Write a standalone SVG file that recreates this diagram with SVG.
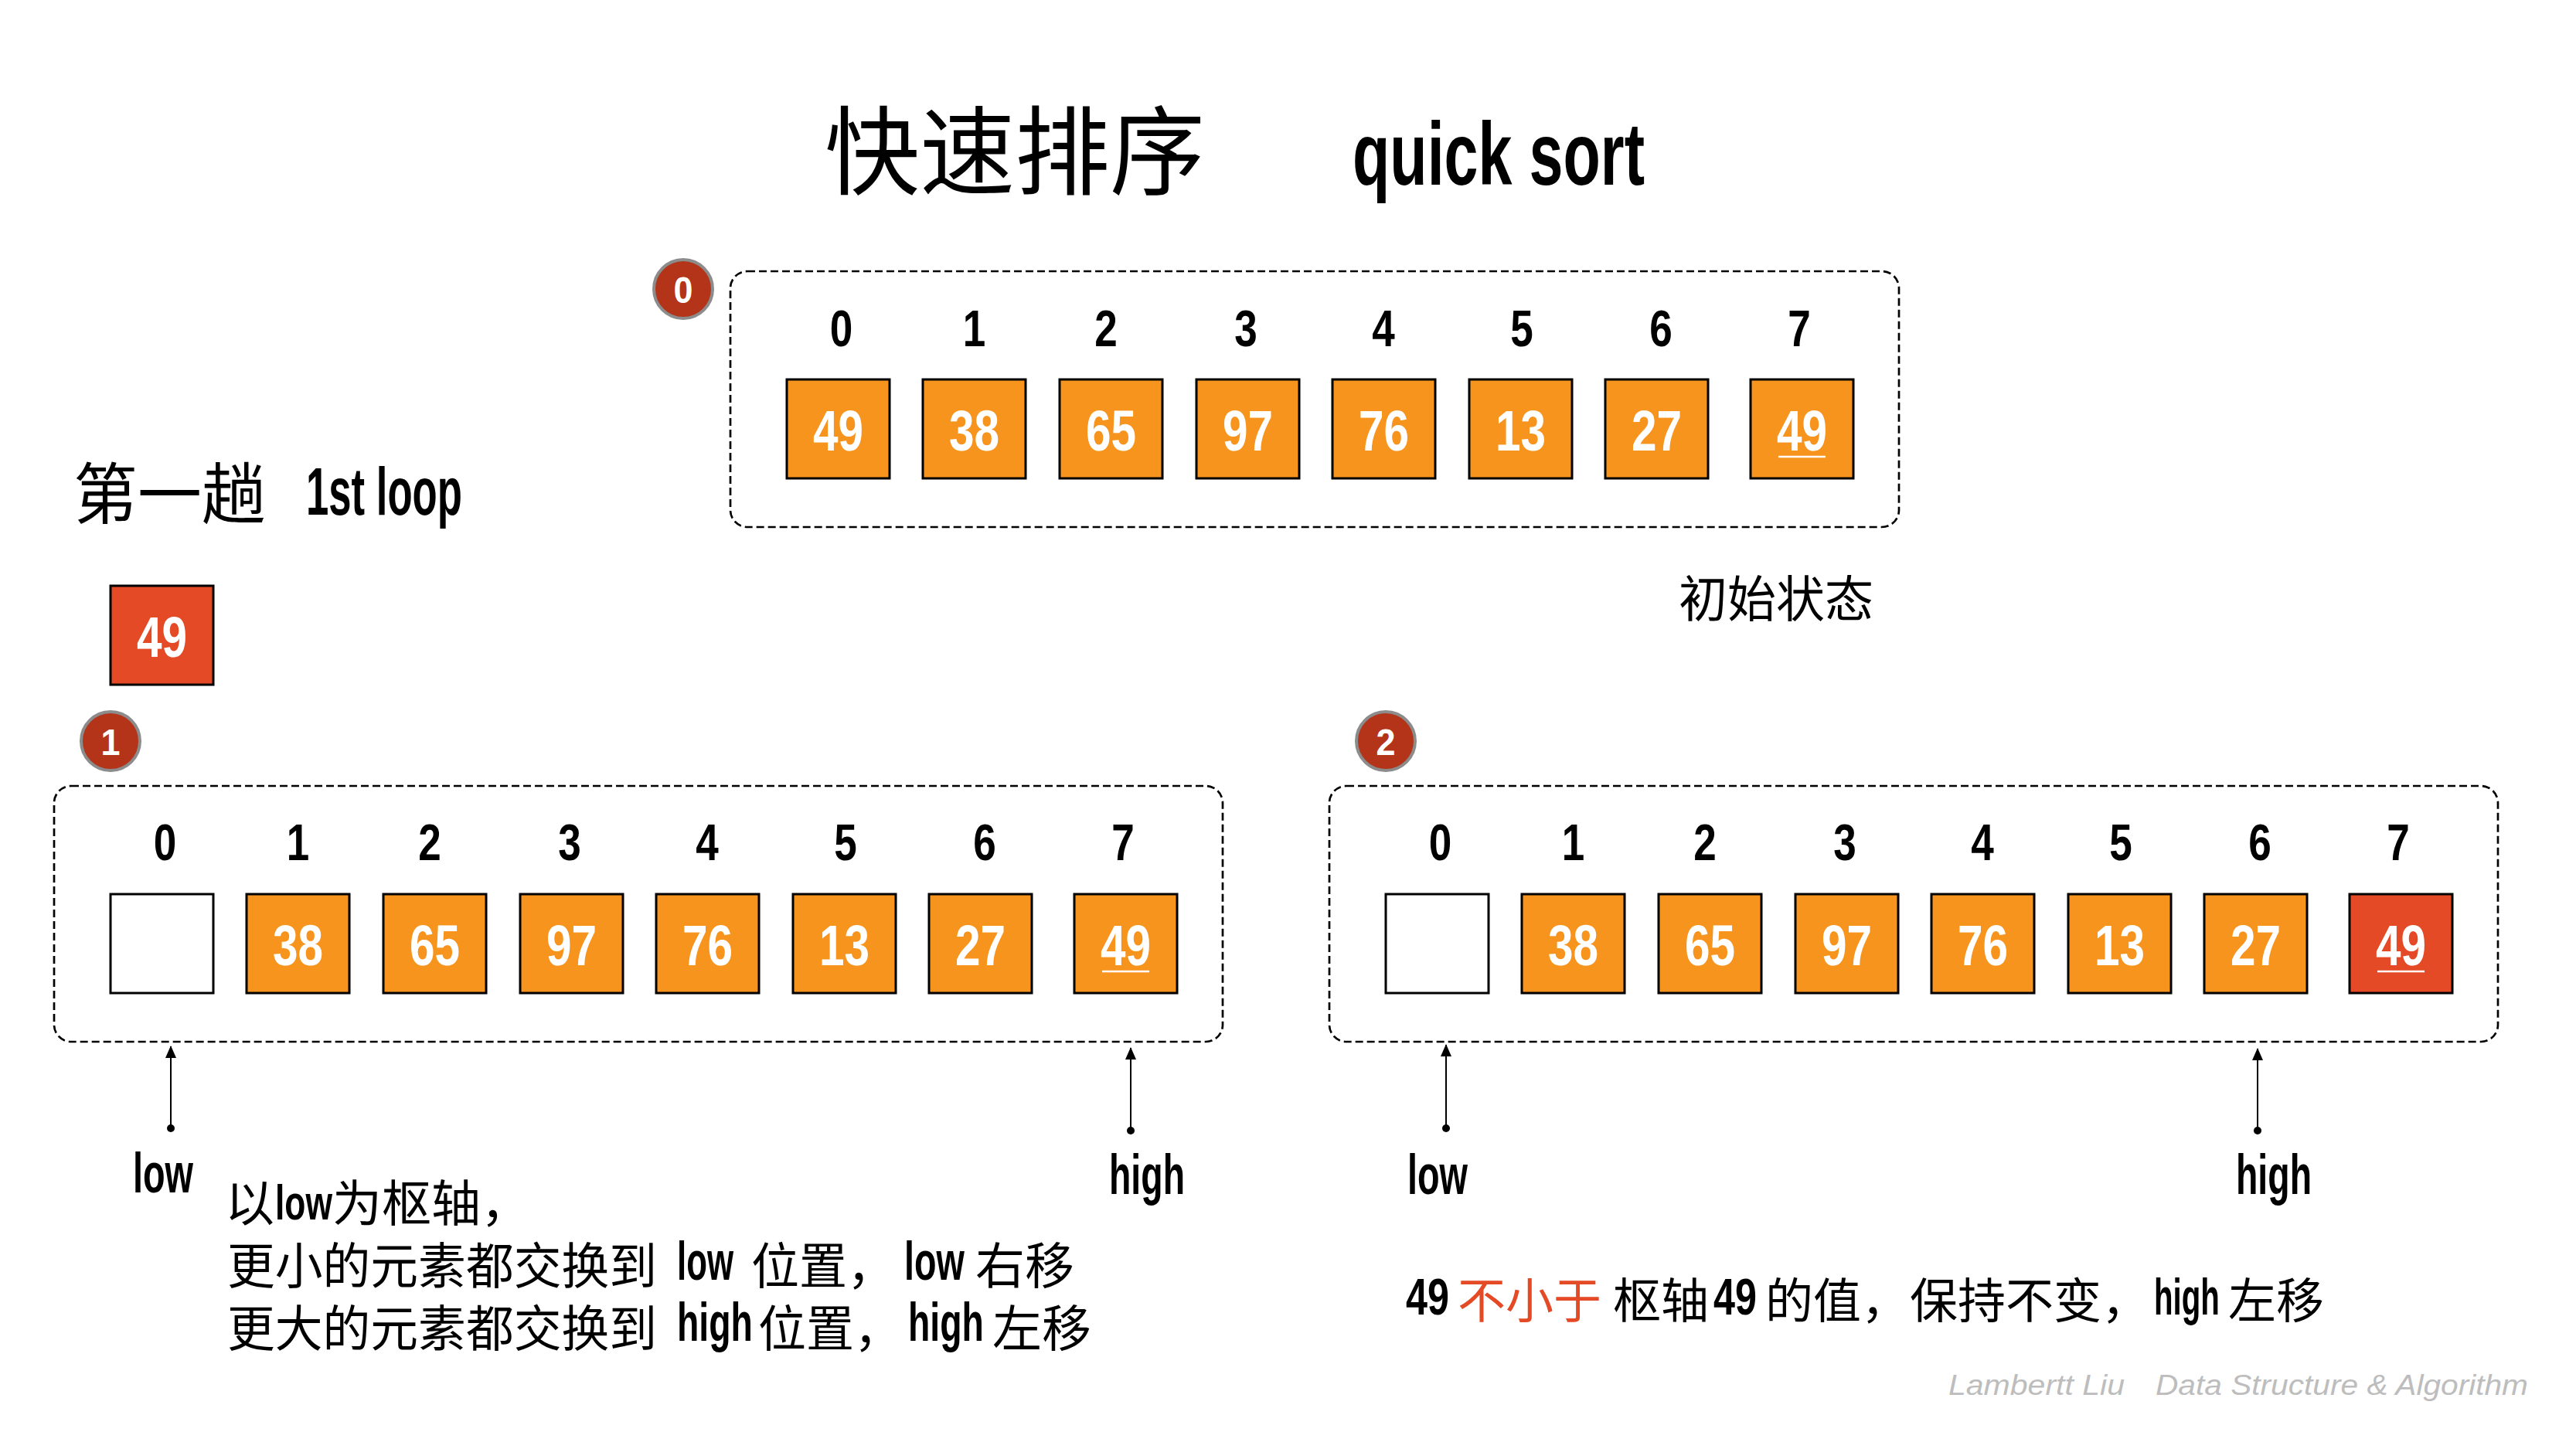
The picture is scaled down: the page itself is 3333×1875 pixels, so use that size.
<svg xmlns="http://www.w3.org/2000/svg" width="3333" height="1875" viewBox="0 0 3333 1875">
<style>
.cjk{font-family:"Noto Sans CJK SC","Noto Sans CJK TC",sans-serif;fill:#000}
.cond{font-family:"Liberation Sans Narrow","Liberation Sans",Arial,sans-serif;font-weight:bold;fill:#000}
.lat{font-family:"Liberation Sans",Arial,sans-serif;font-weight:bold;fill:#000}
.idx{font-size:67px}
.num{font-size:74px;fill:#fff}
.lbl{font-size:72px}
.frame{fill:none;stroke:#000;stroke-width:2.7;stroke-dasharray:10 5}
.cell{fill:#F7941D;stroke:#000;stroke-width:3}
.empty{fill:#fff;stroke:#000;stroke-width:3}
.pivot{fill:#E44A25;stroke:#000;stroke-width:3}
.badge{fill:#B33418;stroke:#8C8C8C;stroke-width:4}
.badgetxt{font-size:49px;fill:#fff}
.uline{stroke:#fff;stroke-width:2.5}
.ptr{stroke:#000;stroke-width:2;fill:none}
.red{fill:#E44A25}
.wm{font-family:"Liberation Sans",Arial,sans-serif;font-style:italic;font-size:37px;fill:#BDBDBD}
</style>
<defs>
<marker id="ah" markerUnits="userSpaceOnUse" viewBox="0 0 16 14" markerWidth="16" markerHeight="14" refX="15" refY="7" orient="auto">
<path d="M0,0 L16,7 L0,14 Z" fill="#000"/>
</marker>
<marker id="dot" markerUnits="userSpaceOnUse" viewBox="0 0 12 12" markerWidth="12" markerHeight="12" refX="6" refY="6" orient="auto">
<circle cx="6" cy="6" r="5" fill="#000"/>
</marker>
</defs>
<rect width="3333" height="1875" fill="#fff"/>

<g id="title">
<text class="cjk" x="1067" y="242" font-size="125" textLength="492" lengthAdjust="spacingAndGlyphs">快速排序</text>
<text class="cond" x="1750" y="239" font-size="115" textLength="378" lengthAdjust="spacingAndGlyphs">quick sort</text>
</g>

<g id="loop-title">
<text class="cjk" x="95" y="671" font-size="86" textLength="249" lengthAdjust="spacingAndGlyphs">第一趟</text>
<text class="cond" x="396" y="666" font-size="88" textLength="202" lengthAdjust="spacingAndGlyphs">1st loop</text>
</g>

<g id="pivot">
<rect class="pivot" x="143" y="758" width="133" height="128"/>
<text class="cond num" x="177" y="850" textLength="65" lengthAdjust="spacingAndGlyphs">49</text>
</g>

<!-- State 0 -->
<g id="state0">
<rect class="frame" x="945" y="351" width="1512" height="331" rx="22"/>
<circle class="badge" cx="884" cy="374" r="38"/>
<text class="cond badgetxt" x="871.5" y="392" textLength="25" lengthAdjust="spacingAndGlyphs">0</text>
<g class="cond idx">
<text x="1073.75" y="448" textLength="29.5" lengthAdjust="spacingAndGlyphs">0</text>
<text x="1245.75" y="448" textLength="29.5" lengthAdjust="spacingAndGlyphs">1</text>
<text x="1416.25" y="448" textLength="29.5" lengthAdjust="spacingAndGlyphs">2</text>
<text x="1597.25" y="448" textLength="29.5" lengthAdjust="spacingAndGlyphs">3</text>
<text x="1775.25" y="448" textLength="29.5" lengthAdjust="spacingAndGlyphs">4</text>
<text x="1954.25" y="448" textLength="29.5" lengthAdjust="spacingAndGlyphs">5</text>
<text x="2134.25" y="448" textLength="29.5" lengthAdjust="spacingAndGlyphs">6</text>
<text x="2313.25" y="448" textLength="29.5" lengthAdjust="spacingAndGlyphs">7</text>
</g>
<rect class="cell" x="1018" y="491" width="133" height="128"/>
<rect class="cell" x="1194" y="491" width="133" height="128"/>
<rect class="cell" x="1371" y="491" width="133" height="128"/>
<rect class="cell" x="1548" y="491" width="133" height="128"/>
<rect class="cell" x="1724" y="491" width="133" height="128"/>
<rect class="cell" x="1901" y="491" width="133" height="128"/>
<rect class="cell" x="2077" y="491" width="133" height="128"/>
<rect class="cell" x="2265" y="491" width="133" height="128"/>
<g class="cond num">
<text x="1052" y="583" textLength="65" lengthAdjust="spacingAndGlyphs">49</text>
<text x="1228" y="583" textLength="65" lengthAdjust="spacingAndGlyphs">38</text>
<text x="1405" y="583" textLength="65" lengthAdjust="spacingAndGlyphs">65</text>
<text x="1582" y="583" textLength="65" lengthAdjust="spacingAndGlyphs">97</text>
<text x="1758" y="583" textLength="65" lengthAdjust="spacingAndGlyphs">76</text>
<text x="1935" y="583" textLength="65" lengthAdjust="spacingAndGlyphs">13</text>
<text x="2111" y="583" textLength="65" lengthAdjust="spacingAndGlyphs">27</text>
<text x="2299" y="583" textLength="65" lengthAdjust="spacingAndGlyphs">49</text>
</g>
<line class="uline" x1="2301" y1="591" x2="2362" y2="591"/>
<text class="cjk" x="2172" y="798" font-size="64" textLength="252" lengthAdjust="spacingAndGlyphs">初始状态</text>
</g>

<!-- State 1 -->
<g id="state1">
<rect class="frame" x="70" y="1017" width="1512" height="331" rx="22"/>
<circle class="badge" cx="143" cy="959" r="38"/>
<text class="cond badgetxt" x="130.5" y="977" textLength="25" lengthAdjust="spacingAndGlyphs">1</text>
<g class="cond idx">
<text x="198.75" y="1113" textLength="29.5" lengthAdjust="spacingAndGlyphs">0</text>
<text x="370.75" y="1113" textLength="29.5" lengthAdjust="spacingAndGlyphs">1</text>
<text x="541.25" y="1113" textLength="29.5" lengthAdjust="spacingAndGlyphs">2</text>
<text x="722.25" y="1113" textLength="29.5" lengthAdjust="spacingAndGlyphs">3</text>
<text x="900.25" y="1113" textLength="29.5" lengthAdjust="spacingAndGlyphs">4</text>
<text x="1079.25" y="1113" textLength="29.5" lengthAdjust="spacingAndGlyphs">5</text>
<text x="1259.25" y="1113" textLength="29.5" lengthAdjust="spacingAndGlyphs">6</text>
<text x="1438.25" y="1113" textLength="29.5" lengthAdjust="spacingAndGlyphs">7</text>
</g>
<rect class="empty" x="143" y="1157" width="133" height="128"/>
<rect class="cell" x="319" y="1157" width="133" height="128"/>
<rect class="cell" x="496" y="1157" width="133" height="128"/>
<rect class="cell" x="673" y="1157" width="133" height="128"/>
<rect class="cell" x="849" y="1157" width="133" height="128"/>
<rect class="cell" x="1026" y="1157" width="133" height="128"/>
<rect class="cell" x="1202" y="1157" width="133" height="128"/>
<rect class="cell" x="1390" y="1157" width="133" height="128"/>
<g class="cond num">
<text x="353" y="1249" textLength="65" lengthAdjust="spacingAndGlyphs">38</text>
<text x="530" y="1249" textLength="65" lengthAdjust="spacingAndGlyphs">65</text>
<text x="707" y="1249" textLength="65" lengthAdjust="spacingAndGlyphs">97</text>
<text x="883" y="1249" textLength="65" lengthAdjust="spacingAndGlyphs">76</text>
<text x="1060" y="1249" textLength="65" lengthAdjust="spacingAndGlyphs">13</text>
<text x="1236" y="1249" textLength="65" lengthAdjust="spacingAndGlyphs">27</text>
<text x="1424" y="1249" textLength="65" lengthAdjust="spacingAndGlyphs">49</text>
</g>
<line class="uline" x1="1426" y1="1257" x2="1487" y2="1257"/>
<text class="cond lbl" x="172" y="1543" textLength="78" lengthAdjust="spacingAndGlyphs">low</text>
<text class="cond lbl" x="1435" y="1545" textLength="98" lengthAdjust="spacingAndGlyphs">high</text>
</g>

<g id="note1">
<text class="cjk" x="291" y="1580" font-size="64">以</text>
<text class="lat" font-size="63" transform="translate(356,1578) scale(0.704,1)">low</text>
<text class="cjk" x="430" y="1580" font-size="64">为枢轴，</text>
<text class="cjk" x="294" y="1661" font-size="64" textLength="556" lengthAdjust="spacingAndGlyphs">更小的元素都交换到</text>
<text class="lat" font-size="70" transform="translate(876,1656) scale(0.626,1)">low</text>
<text class="cjk" x="972" y="1661" font-size="64" textLength="186" lengthAdjust="spacingAndGlyphs">位置，</text>
<text class="lat" font-size="70" transform="translate(1170,1656) scale(0.668,1)">low</text>
<text class="cjk" x="1262" y="1661" font-size="64" textLength="128" lengthAdjust="spacingAndGlyphs">右移</text>
<text class="cjk" x="294" y="1742" font-size="64" textLength="556" lengthAdjust="spacingAndGlyphs">更大的元素都交换到</text>
<text class="lat" font-size="70" transform="translate(876,1735) scale(0.663,1)">high</text>
<text class="cjk" x="981" y="1742" font-size="64" textLength="186" lengthAdjust="spacingAndGlyphs">位置，</text>
<text class="lat" font-size="70" transform="translate(1175,1735) scale(0.663,1)">high</text>
<text class="cjk" x="1284" y="1742" font-size="64" textLength="128" lengthAdjust="spacingAndGlyphs">左移</text>
</g>

<!-- State 2 -->
<g id="state2">
<rect class="frame" x="1720" y="1017" width="1512" height="331" rx="22"/>
<circle class="badge" cx="1793" cy="959" r="38"/>
<text class="cond badgetxt" x="1780.5" y="977" textLength="25" lengthAdjust="spacingAndGlyphs">2</text>
<g class="cond idx">
<text x="1848.75" y="1113" textLength="29.5" lengthAdjust="spacingAndGlyphs">0</text>
<text x="2020.75" y="1113" textLength="29.5" lengthAdjust="spacingAndGlyphs">1</text>
<text x="2191.25" y="1113" textLength="29.5" lengthAdjust="spacingAndGlyphs">2</text>
<text x="2372.25" y="1113" textLength="29.5" lengthAdjust="spacingAndGlyphs">3</text>
<text x="2550.25" y="1113" textLength="29.5" lengthAdjust="spacingAndGlyphs">4</text>
<text x="2729.25" y="1113" textLength="29.5" lengthAdjust="spacingAndGlyphs">5</text>
<text x="2909.25" y="1113" textLength="29.5" lengthAdjust="spacingAndGlyphs">6</text>
<text x="3088.25" y="1113" textLength="29.5" lengthAdjust="spacingAndGlyphs">7</text>
</g>
<rect class="empty" x="1793" y="1157" width="133" height="128"/>
<rect class="cell" x="1969" y="1157" width="133" height="128"/>
<rect class="cell" x="2146" y="1157" width="133" height="128"/>
<rect class="cell" x="2323" y="1157" width="133" height="128"/>
<rect class="cell" x="2499" y="1157" width="133" height="128"/>
<rect class="cell" x="2676" y="1157" width="133" height="128"/>
<rect class="cell" x="2852" y="1157" width="133" height="128"/>
<rect class="pivot" x="3040" y="1157" width="133" height="128"/>
<g class="cond num">
<text x="2003" y="1249" textLength="65" lengthAdjust="spacingAndGlyphs">38</text>
<text x="2180" y="1249" textLength="65" lengthAdjust="spacingAndGlyphs">65</text>
<text x="2357" y="1249" textLength="65" lengthAdjust="spacingAndGlyphs">97</text>
<text x="2533" y="1249" textLength="65" lengthAdjust="spacingAndGlyphs">76</text>
<text x="2710" y="1249" textLength="65" lengthAdjust="spacingAndGlyphs">13</text>
<text x="2886" y="1249" textLength="65" lengthAdjust="spacingAndGlyphs">27</text>
<text x="3074" y="1249" textLength="65" lengthAdjust="spacingAndGlyphs">49</text>
</g>
<line class="uline" x1="3076" y1="1257" x2="3137" y2="1257"/>
<text class="cond lbl" x="1821" y="1545" textLength="78" lengthAdjust="spacingAndGlyphs">low</text>
<text class="cond lbl" x="2893" y="1545" textLength="98" lengthAdjust="spacingAndGlyphs">high</text>
</g>

<g id="note2">
<text class="lat" font-size="66" transform="translate(1819,1701) scale(0.763,1)">49</text>
<text class="cjk red" x="1886" y="1706" font-size="62">不小于</text>
<text class="cjk" x="2087" y="1706" font-size="62">枢轴</text>
<text class="lat" font-size="66" transform="translate(2217,1701) scale(0.763,1)">49</text>
<text class="cjk" x="2284" y="1706" font-size="62">的值，</text>
<text class="cjk" x="2471" y="1706" font-size="62">保持不变，</text>
<text class="lat" font-size="66" transform="translate(2787,1701) scale(0.61,1)">high</text>
<text class="cjk" x="2883" y="1706" font-size="62">左移</text>
</g>

<g id="connectors">
<line class="ptr" x1="221" y1="1460" x2="221" y2="1354" marker-start="url(#dot)" marker-end="url(#ah)"/>
<line class="ptr" x1="1463" y1="1463" x2="1463" y2="1356" marker-start="url(#dot)" marker-end="url(#ah)"/>
<line class="ptr" x1="1871" y1="1460" x2="1871" y2="1352" marker-start="url(#dot)" marker-end="url(#ah)"/>
<line class="ptr" x1="2921" y1="1463" x2="2921" y2="1357" marker-start="url(#dot)" marker-end="url(#ah)"/>
</g>

<g id="watermark">
<text class="wm" x="2521" y="1805" textLength="228" lengthAdjust="spacingAndGlyphs">Lambertt Liu</text>
<text class="wm" x="2789" y="1805" textLength="482" lengthAdjust="spacingAndGlyphs">Data Structure &amp; Algorithm</text>
</g>
</svg>
